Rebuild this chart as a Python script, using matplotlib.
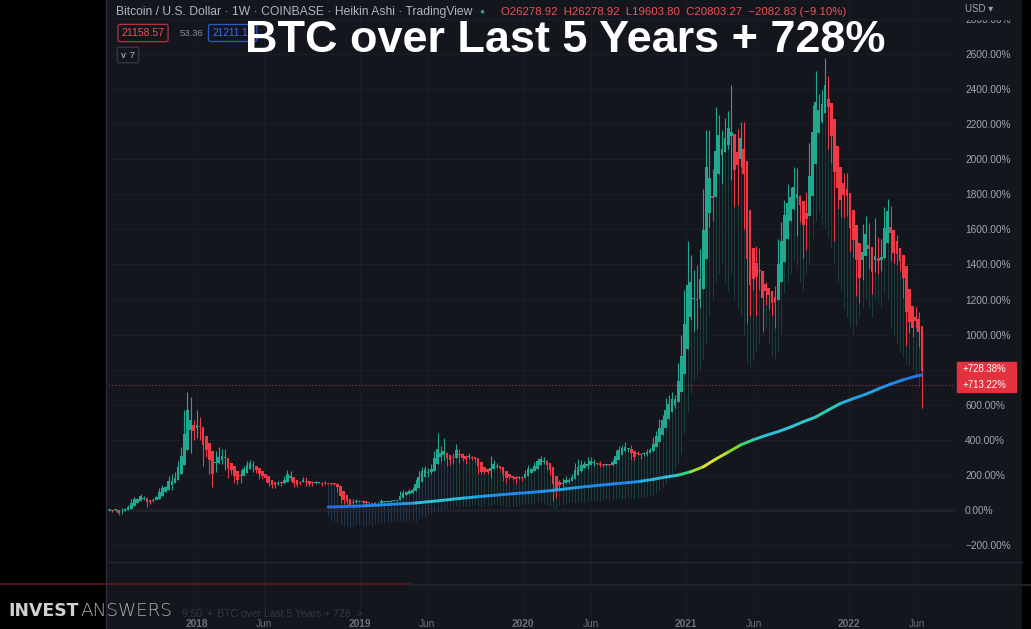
import numpy as np
import pandas as pd
import matplotlib
matplotlib.use("Agg")
import matplotlib.pyplot as plt
import matplotlib.dates as mdates
from matplotlib.collections import LineCollection
from matplotlib.colors import LinearSegmentedColormap, Normalize
from matplotlib.patches import Rectangle
from matplotlib.lines import Line2D
from datetime import datetime

plt.rcParams['font.family'] = ['Liberation Sans', 'DejaVu Sans']

# weekly BTC (Coinbase), thousands of USD, week starting 2017-06-19
first_open = 2.65
close = [
    2.48, 2.50, 2.52, 1.92, 2.73, 2.87, 3.23, 4.05, 4.09, 4.38,
    4.60, 4.20, 3.70, 3.78, 4.40, 4.60, 5.70, 6.00, 6.15, 7.40,
    6.55, 8.05, 9.70, 11.30, 15.10, 19.10, 13.80, 13.90, 16.20, 13.70,
    11.60, 11.70, 8.20, 8.10, 11.00, 9.60, 11.50, 9.50, 8.20, 8.50,
    7.00, 6.90, 8.40, 8.80, 9.40, 9.70, 8.70, 8.20, 7.40, 7.70,
    6.75, 6.45, 6.20, 6.40, 6.75, 6.35, 7.40, 8.20, 7.00, 6.30,
    6.40, 6.70, 7.30, 6.20, 6.50, 6.70, 6.60, 6.60, 6.30, 6.50,
    6.45, 6.40, 6.35, 5.60, 4.00, 4.10, 3.50, 3.20, 4.00, 3.90,
    4.05, 3.55, 3.55, 3.55, 3.40, 3.65, 3.65, 3.85, 3.85, 3.90,
    4.00, 4.00, 4.10, 5.05, 5.10, 5.35, 5.30, 5.75, 7.00, 8.00,
    8.75, 8.70, 8.00, 9.30, 11.00, 10.80, 11.50, 10.30, 10.50, 9.50,
    11.00, 11.40, 10.30, 10.10, 10.40, 10.30, 10.30, 10.00, 8.20, 7.90,
    8.30, 8.20, 9.20, 9.20, 8.80, 8.50, 7.40, 7.40, 7.50, 7.10,
    7.50, 7.20, 7.35, 8.20, 8.70, 8.60, 9.30, 10.20, 9.90, 9.70,
    8.60, 8.00, 5.40, 5.80, 6.25, 6.90, 6.90, 7.10, 7.70, 8.90,
    8.70, 9.70, 8.90, 9.70, 9.50, 9.40, 9.30, 9.00, 9.30, 9.20,
    9.20, 9.90, 11.10, 11.60, 11.90, 11.70, 11.70, 10.30, 10.70, 10.80,
    10.80, 11.10, 11.40, 11.50, 13.00, 13.80, 15.50, 16.00, 18.40, 18.20,
    19.10, 19.20, 23.80, 26.50, 32.00, 38.20, 35.80, 32.30, 33.50, 39.20,
    48.60, 57.40, 45.20, 51.00, 59.00, 57.40, 55.80, 57.90, 60.00, 56.10,
    49.10, 57.80, 58.20, 46.40, 34.70, 35.70, 35.80, 39.10, 35.50, 34.70,
    35.30, 34.20, 31.80, 35.40, 41.50, 44.30, 47.10, 48.90, 48.80, 51.80,
    48.30, 47.30, 43.20, 48.20, 55.00, 61.50, 61.30, 61.80, 63.30, 65.50,
    59.70, 57.30, 50.50, 50.10, 46.70, 50.80, 46.20, 41.90, 43.10, 36.30,
    38.50, 42.40, 42.20, 38.40, 37.70, 38.80, 37.80, 41.30, 46.80, 46.40,
    40.40, 39.70, 39.40, 38.50, 34.10, 31.30, 29.40, 29.40, 29.90, 26.60,
    20.94]
high = [
    2.77, 2.61, 2.67, 2.53, 2.93, 2.90, 3.29, 4.20, 4.48, 4.40,
    4.98, 4.70, 4.40, 4.10, 4.40, 4.60, 5.85, 6.20, 6.15, 7.60,
    7.88, 8.10, 9.80, 11.80, 17.20, 19.90, 19.20, 15.80, 17.20, 16.30,
    13.90, 12.00, 11.90, 9.00, 11.20, 11.80, 11.60, 11.60, 9.90, 9.20,
    8.50, 7.50, 8.40, 9.00, 9.80, 9.90, 9.80, 8.90, 8.50, 7.80,
    7.80, 6.80, 6.80, 6.60, 6.80, 6.80, 7.60, 8.50, 8.30, 7.20,
    6.60, 6.90, 7.40, 7.40, 6.60, 6.80, 6.80, 6.70, 6.70, 6.90,
    6.50, 6.50, 6.60, 6.50, 5.60, 4.40, 4.20, 3.60, 4.20, 4.20,
    4.10, 4.10, 3.70, 3.70, 3.60, 3.70, 3.70, 4.20, 3.90, 3.95,
    4.00, 4.10, 4.15, 5.30, 5.50, 5.40, 5.60, 5.90, 7.20, 8.30,
    8.90, 9.10, 8.80, 9.30, 11.30, 13.90, 12.00, 13.20, 11.10, 10.60,
    11.00, 12.30, 11.50, 10.90, 10.60, 10.90, 10.50, 10.30, 10.00, 8.50,
    8.80, 8.40, 10.50, 9.90, 9.50, 9.00, 8.50, 7.90, 7.70, 7.60,
    7.50, 7.60, 7.50, 8.40, 9.20, 8.80, 9.60, 10.20, 10.50, 10.30,
    9.90, 9.20, 8.20, 6.90, 7.00, 7.30, 7.50, 7.30, 7.80, 9.50,
    10.00, 9.90, 9.80, 10.40, 10.40, 10.00, 9.60, 9.80, 9.30, 9.40,
    9.30, 10.10, 11.40, 12.00, 12.10, 12.50, 11.70, 12.10, 10.80, 11.20,
    10.90, 11.10, 11.50, 11.70, 13.30, 14.10, 15.90, 16.50, 19.00, 19.50,
    19.90, 19.40, 24.20, 28.30, 34.80, 42.00, 40.00, 37.80, 38.60, 40.90,
    49.70, 58.40, 58.40, 52.60, 61.80, 60.60, 58.40, 60.10, 61.20, 64.90,
    57.60, 58.50, 59.60, 59.50, 46.60, 40.80, 39.50, 41.30, 41.10, 36.00,
    36.00, 35.10, 34.60, 35.40, 42.40, 44.80, 48.10, 50.50, 50.00, 52.90,
    52.80, 48.80, 47.30, 49.20, 56.50, 62.00, 67.00, 63.70, 64.20, 69.00,
    66.30, 59.30, 59.20, 51.90, 50.20, 52.00, 52.00, 47.50, 44.40, 43.50,
    38.90, 44.50, 45.80, 44.70, 39.80, 45.40, 42.60, 42.30, 47.00, 48.20,
    47.20, 42.40, 42.90, 40.80, 40.00, 34.50, 31.40, 30.60, 32.40, 31.70,
    26.90]
low = [
    2.43, 2.30, 2.48, 1.83, 1.92, 2.42, 2.65, 3.20, 3.88, 3.94,
    4.30, 4.00, 2.97, 3.50, 3.75, 4.10, 4.60, 5.10, 5.40, 6.10,
    5.50, 6.50, 8.00, 9.00, 11.30, 15.10, 11.00, 12.90, 13.20, 12.80,
    9.00, 10.30, 7.90, 6.00, 8.10, 9.30, 9.40, 8.50, 7.30, 7.90,
    6.50, 6.40, 6.60, 7.90, 8.60, 9.00, 8.20, 8.00, 7.20, 7.10,
    6.70, 6.10, 5.80, 5.80, 6.30, 6.10, 6.40, 7.40, 6.90, 5.90,
    5.90, 6.30, 6.70, 6.10, 6.10, 6.10, 6.40, 6.50, 6.10, 6.30,
    6.40, 6.20, 6.30, 5.20, 3.60, 3.50, 3.30, 3.15, 3.20, 3.60,
    3.70, 3.50, 3.50, 3.50, 3.35, 3.35, 3.55, 3.60, 3.70, 3.70,
    3.80, 3.90, 3.90, 4.10, 4.90, 5.00, 5.00, 5.20, 5.70, 6.60,
    7.50, 8.00, 7.40, 7.80, 9.00, 10.30, 9.70, 9.90, 9.10, 9.20,
    9.40, 11.00, 9.50, 9.80, 9.30, 10.00, 9.90, 9.60, 7.80, 7.80,
    7.80, 7.90, 7.30, 9.00, 8.70, 8.40, 6.80, 6.50, 7.20, 7.00,
    6.40, 7.10, 6.90, 7.30, 8.10, 8.20, 8.50, 9.10, 9.70, 9.30,
    8.40, 7.70, 3.85, 4.40, 5.70, 5.90, 6.60, 6.50, 6.80, 7.70,
    8.10, 8.20, 8.80, 8.60, 9.30, 9.10, 9.20, 8.90, 8.90, 9.10,
    9.10, 9.10, 9.90, 11.10, 11.10, 11.40, 11.10, 9.90, 9.90, 10.60,
    10.10, 10.50, 10.50, 11.20, 11.40, 12.90, 13.20, 15.00, 15.80, 16.20,
    18.20, 17.60, 19.00, 21.90, 26.00, 30.00, 30.40, 28.80, 29.20, 32.30,
    37.40, 47.10, 44.10, 45.00, 49.30, 53.30, 50.40, 55.20, 55.50, 51.00,
    47.00, 47.30, 53.00, 43.80, 30.00, 31.10, 34.80, 31.00, 34.80, 28.80,
    32.70, 32.10, 31.10, 29.30, 35.40, 37.50, 43.80, 43.90, 46.40, 46.60,
    42.80, 44.80, 39.60, 40.80, 46.90, 53.90, 59.80, 58.10, 59.40, 62.30,
    55.60, 53.50, 42.00, 46.80, 45.60, 45.50, 45.70, 40.50, 39.70, 34.00,
    32.90, 36.30, 41.70, 38.00, 34.30, 37.50, 37.20, 37.60, 40.90, 44.20,
    39.20, 38.90, 38.50, 37.60, 33.70, 26.70, 28.60, 28.00, 29.30, 26.50,
    17.60]

# faint shadow lines seen under the candles (percent), weeks 70..260
ghost_start = 70
ghost_pct = [
    -40, -55, -60, -70, -80, -85, -90, -95, -90, -85, -88, -92, -90, -85, -90,
    -80, -75, -70, -72, -68, -70, -65, -60,
    -65, -70, -60, -65, -55, -60, -50, -45,
    -40, -30, -20, -10, 0, -5, 5, 10,
    10, 15, 20, 15, 20, 25, 20, 25, 30, 20, 15, 20, 25, 30, 35, 30,
    25, 20, 15, 20, 25, 20, 25, 30, 35, 40, 35, 40, 45, 40, 35, 30,
    20, 10, 0, 20,
    30, 35, 40, 45, 40, 45, 50, 45, 50, 55, 50, 55, 50, 55, 60, 55, 60,
    65, 70, 65, 70, 75, 70, 65, 70, 75, 70, 75, 80, 85, 95,
    110, 130, 150, 170, 200, 230, 270, 320,
    440, 560, 667,
    741, 760, 800, 860, 950,
    1100, 1200, 1300, 1350, 1400, 1300, 1250, 1350, 1200, 1150, 1100, 1000,
    838, 820, 860, 900, 950, 1000, 1040, 950, 880, 860, 900, 1000,
    1240, 1300, 1350, 1420, 1380, 1300, 1250, 1350, 1400,
    1550, 1650, 1700, 1620, 1600, 1550, 1500, 1400, 1300,
    1250, 1150, 1100, 1050, 1000, 1050, 1100, 1150, 1200,
    1150, 1100, 1200, 1180, 1150, 1230, 1200,
    1040, 1000, 950, 900, 870, 830, 820, 800,
    750, 700, 627]

# 200-week moving average (percent), read at these week numbers
ma_week = [70, 74, 78, 82, 86, 90, 94, 98, 102, 106, 110, 114, 118, 122, 126,
           130, 134, 138, 142, 146, 150, 154, 158, 162, 166, 170, 174, 178,
           182, 186, 190, 194, 198, 202, 206, 210, 214, 218, 222, 226, 230,
           234, 238, 242, 246, 250, 254, 258, 260]
ma_pct = [17, 19, 21, 24, 28, 32, 36, 40, 47, 54, 62, 69, 76, 82, 88,
          94, 99, 105, 112, 120, 129, 136, 143, 150, 156, 164, 175, 188,
          199, 218, 246, 290, 330, 371, 400, 425, 447, 473, 503, 530, 570,
          608, 635, 660, 690, 718, 742, 763, 770]

base = 2.575  # first bar reference price, thousands USD

W, H = 1031, 629
BG = "#14161e"
UP, DOWN = "#22a88e", "#ee3a46"
GREY = "#a3a6af"


def fx(x):
    return x / W


def fy(y):
    return 1 - y / H


def pct(v):
    return (np.asarray(v) / base - 1) * 100


# heikin ashi
c = np.array(close)
h = np.array(high)
l = np.array(low)
o = np.concatenate([[first_open], c[:-1]])
ha_c = (o + h + l + c) / 4
ha_o = np.zeros_like(ha_c)
ha_o[0] = (o[0] + c[0]) / 2
for i in range(1, len(c)):
    ha_o[i] = (ha_o[i - 1] + ha_c[i - 1]) / 2
ha_h = np.maximum.reduce([h, ha_o, ha_c])
ha_l = np.minimum.reduce([l, ha_o, ha_c])

dates = pd.date_range("2017-06-19", periods=len(c), freq="7D")
xd = mdates.date2num(dates.to_pydatetime())

fig = plt.figure(figsize=(W / 100, H / 100), dpi=100, facecolor=BG)
ax = fig.add_axes([fx(108), 0, fx(955) - fx(108), 1])
ax.set_facecolor(BG)
for s in ax.spines.values():
    s.set_visible(False)

ax.set_xlim(mdates.date2num(datetime(2017, 6, 16)), mdates.date2num(datetime(2022, 8, 26)))
ax.set_ylim(-678.4, 2907.6)

# grid; the 800% label sits under the red price tags, so it is left blank
yt = list(range(-200, 3000, 200))
ax.set_yticks(yt)
ax.set_yticklabels(["" if v == 800 else ("\u2212" if v < 0 else "") + f"{abs(v):.2f}%" for v in yt])
ax.yaxis.tick_right()
ax.tick_params(axis="y", length=0, pad=7.2, labelsize=7.3, labelcolor=GREY)
ax.set_xticks([])
ax.grid(axis="y", color="#1b1e27", lw=0.8)

tick_dates = [datetime(2018, 1, 1), datetime(2018, 6, 1), datetime(2019, 1, 1), datetime(2019, 6, 1),
              datetime(2020, 1, 1), datetime(2020, 6, 1), datetime(2021, 1, 1), datetime(2021, 6, 1),
              datetime(2022, 1, 1), datetime(2022, 6, 1)]
tick_text = ["2018", "Jun", "2019", "Jun", "2020", "Jun", "2021", "Jun", "2022", "Jun"]
for d, t in zip(tick_dates, tick_text):
    xv = mdates.date2num(d)
    ax.axvline(xv, color="#191c25", lw=0.8, zorder=0)
    ax.text(xv, fy(624), t, transform=ax.get_xaxis_transform(), ha="center", va="center",
            fontsize=7.3, color="#6e717a", fontweight="bold" if t != "Jun" else "normal")

# zero line and last price line
ax.axhline(0, color="#80838c", lw=0.9, zorder=1)
ax.axhline(pct(c[-1]), color="#7d2a32", lw=0.8, ls=(0, (1.5, 1.5)), zorder=1)

# shadows
gx = xd[ghost_start:]
gl = np.array(ghost_pct, dtype=float)
gtop = pct(ha_l[ghost_start:])
gcol = ["#3a7fc0" if i + ghost_start < 110 else "#23a08e" for i in range(len(gl))]
ax.vlines(gx, gl, gtop, colors=gcol, lw=0.7, alpha=0.3, zorder=1)

# candles
up = ha_c >= ha_o
cols = np.where(up, UP, DOWN)
ax.vlines(xd, pct(ha_l), pct(ha_h), colors=cols, lw=0.8, zorder=2)
bot = pct(np.minimum(ha_o, ha_c))
hgt = np.maximum(pct(np.maximum(ha_o, ha_c)) - bot, 5)
ax.bar(xd, hgt, bottom=bot, width=6.0, color=cols, lw=0, zorder=3)

# 200 week MA, coloured by its rate of change
mx = xd[np.array(ma_week)]
my = np.array(ma_pct, dtype=float)
slope = np.gradient(my, np.array(ma_week, dtype=float)) / (100 + my) * 100
cmap = LinearSegmentedColormap.from_list("heat", [
    (0.0, "#2a5ee0"), (0.2, "#1f90ea"), (0.34, "#2ec4d8"), (0.5, "#2fd48a"),
    (0.66, "#5ad62c"), (0.82, "#b0e22e"), (1.0, "#f0e232")])
norm = Normalize(0.3, 2.8)
pts = np.column_stack([mx, my])
segs = [[pts[i], pts[i + 1]] for i in range(len(pts) - 1)]
seg_col = [cmap(norm((slope[i] + slope[i + 1]) / 2)) for i in range(len(pts) - 1)]
ax.add_collection(LineCollection(segs, colors=seg_col, lw=2.1, capstyle="round", zorder=4))

# frame pieces
fig.patches.append(Rectangle((0, 0), fx(105), 1, transform=fig.transFigure, color="black", zorder=1))
fig.patches.append(Rectangle((fx(1022), 0), 1 - fx(1022), 1, transform=fig.transFigure, color="black", zorder=1))
fig.patches.append(Rectangle((fx(956), fy(18.5)), fx(1021) - fx(956), 18.5 / H, transform=fig.transFigure,
                             color=BG, zorder=1))
fig.lines.append(Line2D([fx(106), fx(106)], [0, 1], transform=fig.transFigure, color="#2a2d36", lw=1))
fig.lines.append(Line2D([fx(106), fx(1022)], [fy(562), fy(562)], transform=fig.transFigure, color="#232630", lw=1))
fig.lines.append(Line2D([0, fx(410)], [fy(584), fy(584)], transform=fig.transFigure, color="#4a1a20", lw=1.5))
fig.lines.append(Line2D([fx(410), 1], [fy(585), fy(585)], transform=fig.transFigure, color="#202229", lw=1.5))

# right side labels
fig.patches.append(Rectangle((fx(957), fy(392)), fx(1016) - fx(957), 30 / H, transform=fig.transFigure,
                             color="#e3323e", zorder=2))
fig.text(fx(962), fy(369.5), "+728.38%", color="white", fontsize=6.9, va="center", zorder=3)
fig.text(fx(962), fy(385), "+713.22%", color="white", fontsize=6.9, va="center", zorder=3)
fig.text(fx(965), fy(9), "USD \u25be", color=GREY, fontsize=7, va="center", family=["Liberation Sans", "DejaVu Sans"])

# legend line at top
fig.text(fx(116), fy(12), "Bitcoin / U.S. Dollar \u00b7 1W \u00b7 COINBASE \u00b7 Heikin Ashi \u00b7 TradingView",
         color="#b2b5be", fontsize=8.7, va="center")
fig.text(fx(482), fy(12), "\u25cf", color="#22ab94", fontsize=6, va="center", ha="center")
fig.text(fx(501), fy(12), "O26278.92  H26278.92  L19603.80  C20803.27  \u22122082.83 (\u22129.10%)",
         color="#ef5350", fontsize=8.2, va="center")
fig.text(fx(143), fy(33), "21158.57", color="#ef5350", fontsize=7.5, va="center", ha="center",
         bbox=dict(boxstyle="round,pad=0.35,rounding_size=0.2", fc="none", ec="#b8333d", lw=0.9))
fig.text(fx(180), fy(33), "53.36", color="#8a8d96", fontsize=6.8, va="center")
fig.text(fx(212), fy(33), "21211.13", color="#3f6df2", fontsize=7.2, va="center",
         bbox=dict(boxstyle="round,pad=0.35,rounding_size=0.2", fc="none", ec="#2d56c8", lw=0.9))
fig.text(fx(128), fy(55), "\u2228 7", color="#b2b5be", fontsize=6.8, va="center", ha="center",
         family=["Liberation Sans", "DejaVu Sans"],
         bbox=dict(boxstyle="round,pad=0.35,rounding_size=0.2", fc="none", ec="#363a45", lw=0.9))

# title
fig.text(fx(565), fy(52), "BTC over Last 5 Years + 728%", color="white", fontsize=32.4,
         fontweight="bold", ha="center", va="baseline", zorder=5)

# channel overlay
fig.text(fx(8), fy(611), "INVEST", color="#d0d0d0", fontsize=12.4, fontweight="bold", va="center", zorder=5,
         family=["DejaVu Sans"])
fig.text(fx(80), fy(611), "ANSWERS", color="#b0b0b0", fontsize=13.2, va="center", zorder=5,
         family=["DejaVu Sans"], fontweight="light")
fig.text(fx(182), fy(614), "9:50  \u2022  BTC over Last 5 Years + 728  >", color="#34373f", fontsize=7.5,
         va="center", zorder=5)

fig.savefig("out.png", dpi=100, facecolor=BG)
